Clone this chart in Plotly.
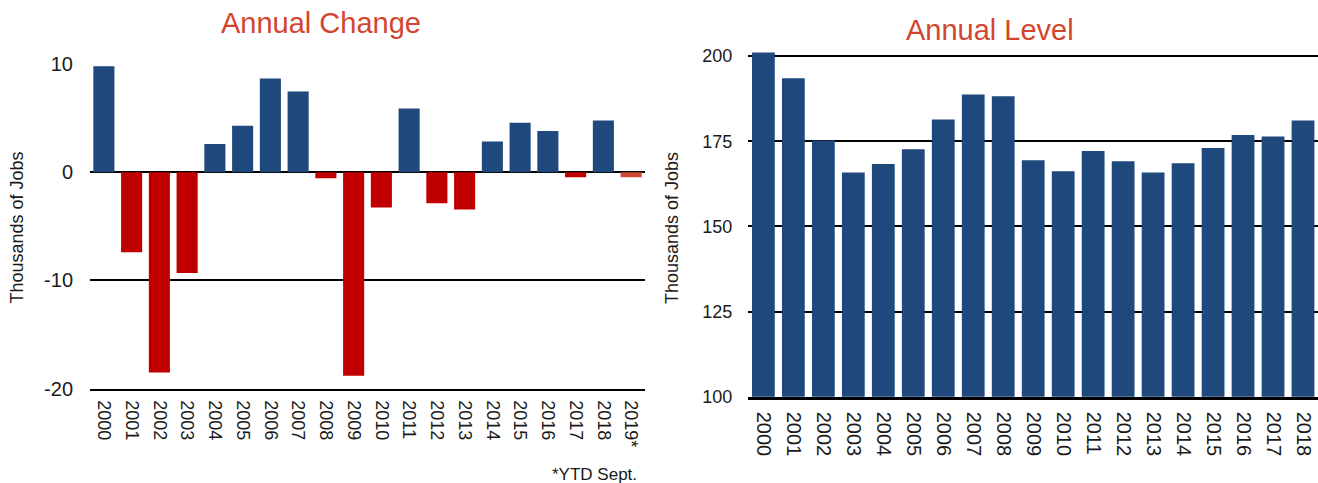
import plotly.graph_objects as go

W, H = 1318, 483

# Annual change (thousands of jobs)
change_years = ["2000", "2001", "2002", "2003", "2004", "2005", "2006", "2007", "2008", "2009",
                "2010", "2011", "2012", "2013", "2014", "2015", "2016", "2017", "2018", "2019*"]
change_values = [9.8, -7.4, -18.5, -9.3, 2.6, 4.3, 8.65, 7.45, -0.55, -18.8,
                 -3.25, 5.9, -2.87, -3.45, 2.85, 4.57, 3.8, -0.46, 4.79, -0.46]

# Annual level (thousands of jobs)
level_years = ["2000", "2001", "2002", "2003", "2004", "2005", "2006", "2007", "2008", "2009",
               "2010", "2011", "2012", "2013", "2014", "2015", "2016", "2017", "2018"]
level_values = [201.0, 193.5, 175.2, 165.8, 168.3, 172.6, 181.4, 188.7, 188.2, 169.4,
                166.2, 172.1, 169.1, 165.8, 168.5, 173.0, 176.8, 176.4, 181.1]

change_ticks = [-20, -10, 0, 10]
level_ticks = [100, 125, 150, 175, 200]

BLUE = "#1f497d"
RED = "#c00000"
YTD = "#d04a35"
TITLE_RED = "#d2452f"
FONT = "Liberation Sans, Arial, sans-serif"


def px_x(p):
    return p / W


def px_y(p):
    return 1 - p / H


# bar colours: blue for gains, red for losses, partial year in a lighter red
change_colors = []
for year, v in zip(change_years, change_values):
    if year.endswith("*"):
        change_colors.append(YTD)
    elif v < 0:
        change_colors.append(RED)
    else:
        change_colors.append(BLUE)

fig = go.Figure()

fig.add_trace(
    go.Bar(
        x=change_years,
        y=change_values,
        marker=dict(color=change_colors, line=dict(width=0)),
        xaxis="x",
        yaxis="y",
        showlegend=False,
        hoverinfo="x+y",
    )
)

fig.add_trace(
    go.Bar(
        x=level_years,
        y=level_values,
        marker=dict(color=BLUE, line=dict(width=0)),
        xaxis="x2",
        yaxis="y2",
        showlegend=False,
        hoverinfo="x+y",
    )
)

fig.update_layout(
    width=W,
    height=H,
    margin=dict(l=0, r=0, t=0, b=0, autoexpand=False),
    paper_bgcolor="white",
    plot_bgcolor="white",
    font=dict(family=FONT, color="#1a1a1a"),
    bargap=0.24,
    xaxis=dict(
        domain=[px_x(90), px_x(645)],
        anchor="y",
        type="category",
        tickangle=90,
        tickfont=dict(size=18, color="#1a1a1a"),
        showgrid=False,
        showline=True,
        linecolor="black",
        linewidth=2,
        ticks="",
        ticklabelstandoff=6,
        automargin=False,
    ),
    yaxis=dict(
        domain=[px_y(388.7), px_y(64)],
        anchor="x",
        range=[-20, 10],
        tickvals=change_ticks,
        # plain hyphen for negatives, like the original
        ticktext=[str(v) for v in change_ticks],
        tickfont=dict(size=20, color="#1a1a1a"),
        showgrid=True,
        gridcolor="black",
        gridwidth=2,
        zeroline=True,
        zerolinecolor="black",
        zerolinewidth=2,
        showline=False,
        ticks="",
        ticklabelstandoff=16,
        automargin=False,
    ),
    xaxis2=dict(
        domain=[px_x(748.4), 1.0],
        anchor="y2",
        type="category",
        tickangle=90,
        tickfont=dict(size=20, color="#1a1a1a"),
        showgrid=False,
        showline=True,
        linecolor="black",
        linewidth=3,
        ticks="",
        ticklabelstandoff=8,
        automargin=False,
    ),
    yaxis2=dict(
        domain=[px_y(396.7), px_y(49.2)],
        anchor="x2",
        range=[100, 202],
        tickvals=level_ticks,
        tickfont=dict(size=18, color="#1a1a1a"),
        showgrid=True,
        gridcolor="black",
        gridwidth=2,
        zeroline=False,
        showline=False,
        ticks="",
        ticklabelstandoff=15,
        automargin=False,
    ),
    annotations=[
        dict(text="Annual Change", x=px_x(321), y=px_y(23), xref="paper", yref="paper",
             xanchor="center", yanchor="middle", showarrow=False,
             font=dict(size=29, color=TITLE_RED, family=FONT)),
        dict(text="Annual Level", x=px_x(990), y=px_y(30), xref="paper", yref="paper",
             xanchor="center", yanchor="middle", showarrow=False,
             font=dict(size=29, color=TITLE_RED, family=FONT)),
        dict(text="Thousands of Jobs", x=px_x(16), y=px_y(227.5), xref="paper", yref="paper",
             xanchor="center", yanchor="middle", showarrow=False, textangle=-90,
             font=dict(size=18, color="#1a1a1a", family=FONT)),
        dict(text="Thousands of Jobs", x=px_x(671.5), y=px_y(228.5), xref="paper", yref="paper",
             xanchor="center", yanchor="middle", showarrow=False, textangle=-90,
             font=dict(size=18, color="#1a1a1a", family=FONT)),
        dict(text="*YTD Sept.", x=px_x(639), y=px_y(474), xref="paper", yref="paper",
             xanchor="right", yanchor="middle", showarrow=False,
             font=dict(size=17, color="#1a1a1a", family=FONT)),
    ],
)

fig.write_html("out.html", config={"displayModeBar": False},
               post_script="document.body.style.margin = '0';")
